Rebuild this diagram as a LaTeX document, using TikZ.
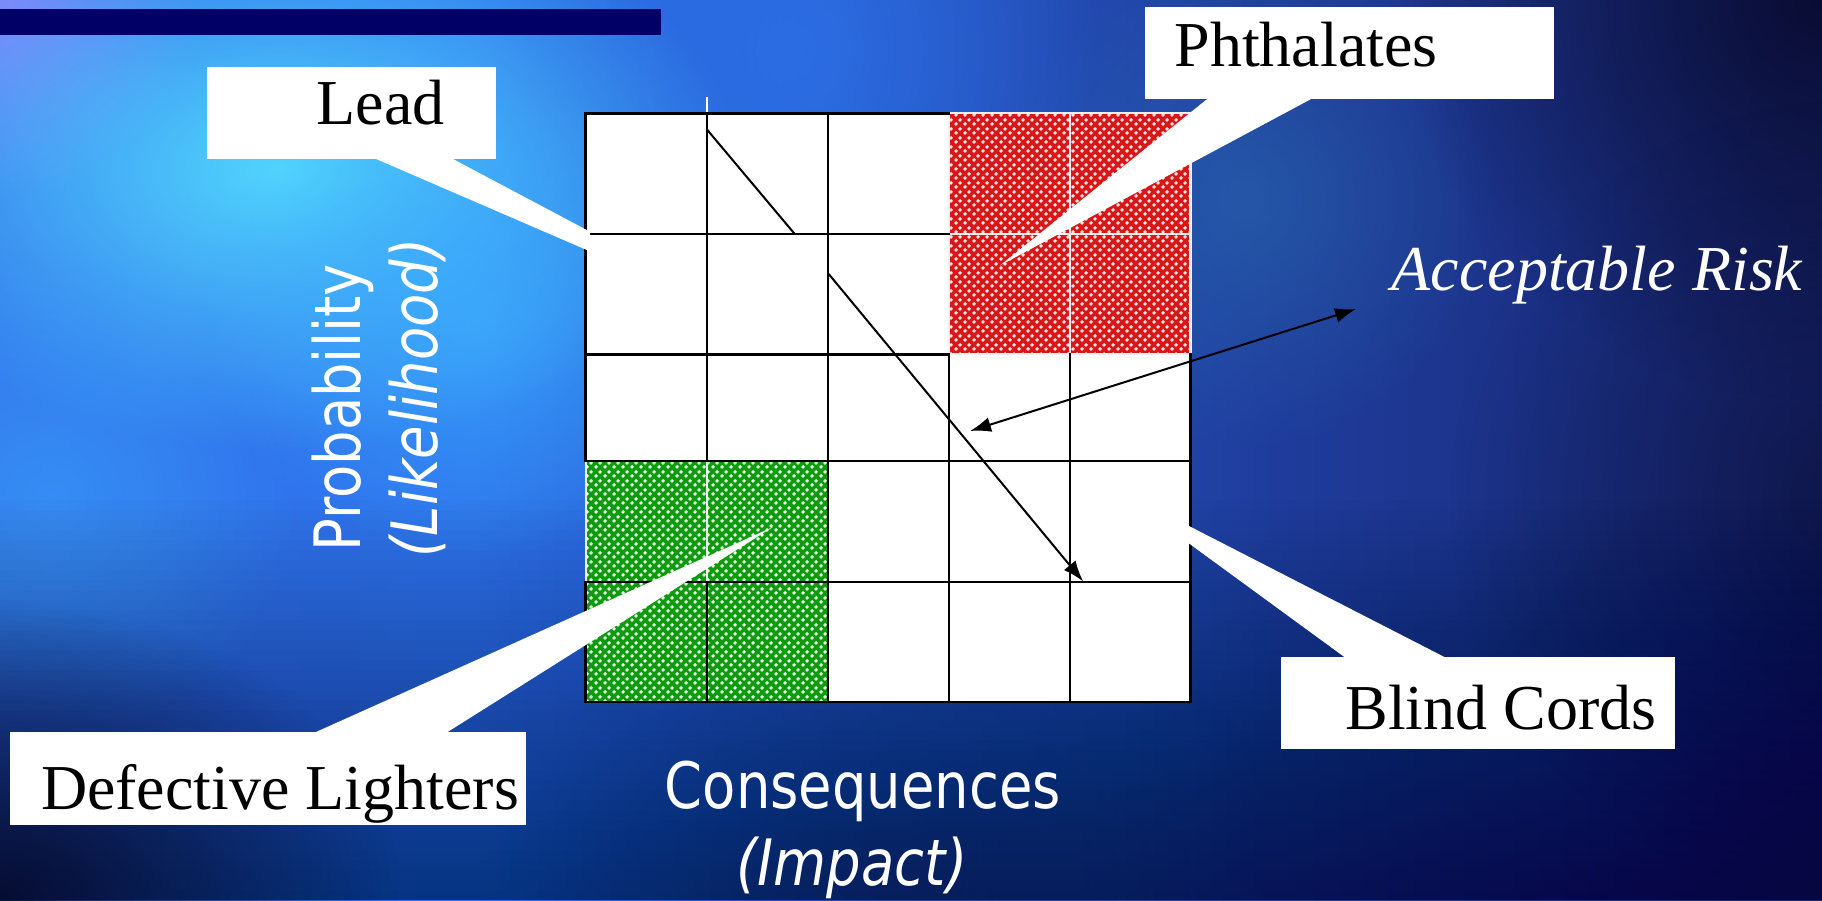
\documentclass[tikz,border=0pt]{standalone}
\usepackage{fontspec}
\setmainfont{Liberation Serif}
\newfontfamily\axisfont[FakeStretch=0.85]{DejaVu Sans}
\usetikzlibrary{arrows.meta,fadings,patterns}
\definecolor{bgA}{HTML}{3A6EE6}
\definecolor{bgB}{HTML}{2E74EE}
\definecolor{bgC}{HTML}{1F3C9C}
\definecolor{bgD}{HTML}{141C5C}
\definecolor{bgE}{HTML}{0A0A28}
\definecolor{glowcyan}{HTML}{55E0FF}
\definecolor{glowblue}{HTML}{3CB0FF}
\definecolor{glowpurple}{HTML}{A080FF}
\definecolor{glowteal}{HTML}{2A70B0}
\definecolor{darknavy}{HTML}{060624}
\definecolor{barnavy}{HTML}{000066}
\definecolor{riskred}{HTML}{D81818}
\definecolor{riskgreen}{HTML}{109A10}
\pgfdeclarehorizontalshading{bgshade}{100bp}{color(0bp)=(bgA); color(38bp)=(bgB); color(60bp)=(bgC); color(82bp)=(bgD); color(100bp)=(bgE)}
\pgfdeclarepatternformonly{riskdots}{\pgfqpoint{0pt}{0pt}}{\pgfqpoint{9pt}{9pt}}{\pgfqpoint{9pt}{9pt}}{%
  \pgfpathcircle{\pgfqpoint{2.25pt}{2.25pt}}{2.2pt}%
  \pgfpathcircle{\pgfqpoint{6.75pt}{6.75pt}}{2.2pt}%
  \pgfusepath{fill}}
\tikzfading[name=glow, inner color=transparent!0, outer color=transparent!100]
\tikzset{
  serlbl/.style={font=\fontsize{64}{77}\selectfont, text=black, inner sep=0pt, anchor=base},
  axlbl/.style={font=\axisfont\fontsize{64}{77}\selectfont, text=white, inner sep=0pt, anchor=base},
  calloutbox/.style={fill=white, draw=none, inner sep=0pt},
  gridblk/.style={line width=2.6pt, black, line cap=rect},
  gridwht/.style={line width=2.2pt, white!94!black},
  trendline/.style={line width=2pt, black},
  wedge/.style={fill=white}
}
\def\gxA{585.7}\def\gxB{706.8}\def\gxC{827.8}\def\gxD{949}\def\gxE{1070}\def\gxF{1190.5}
\def\gyA{113.3}\def\gyB{234}\def\gyC{354.2}\def\gyD{461}\def\gyE{582}\def\gyF{702}
\begin{document}
\begin{tikzpicture}[x=1pt,y=-1pt]
\useasboundingbox (0,0) rectangle (1822,900);
% background
\shade[shading=bgshade] (0,0) rectangle (1822,900);
\fill[bgB, path fading=glow, fill opacity=0.7] (500,-300) rectangle (1100,400);
\fill[glowpurple, path fading=glow, fill opacity=0.75] (-200,-200) rectangle (200,200);
\fill[glowcyan, path fading=glow, fill opacity=0.9] (-180,-110) rectangle (740,450);
\fill[glowblue, path fading=glow, fill opacity=0.7] (200,80) rectangle (760,560);
\fill[glowblue, path fading=glow, fill opacity=0.45] (-200,250) rectangle (300,750);
\fill[glowteal, path fading=glow, fill opacity=0.5] (1000,-50) rectangle (1500,450);
\fill[darknavy, path fading=glow, fill opacity=0.8] (1400,-400) rectangle (2240,400);
\fill[darknavy, path fading=glow, fill opacity=0.5] (1450,100) rectangle (2250,900);
\fill[bgC, path fading=glow, fill opacity=0.6] (500,600) rectangle (1300,1150);
\foreach \yy in {500,510,...,890} {\fill[darknavy, fill opacity=0.015] (0,\yy) rectangle (1822,900);}
\fill[darknavy, path fading=glow, fill opacity=0.85] (-400,600) rectangle (400,1200);
% top bar
\fill[barnavy] (0,9) rectangle (660.7,34.7);
% grid cells
\fill[white] (\gxA,\gyA) rectangle (\gxF,\gyF);
\fill[riskred] (\gxD,\gyA) rectangle (\gxF,\gyC);
\fill[pattern=riskdots, pattern color=white!90!red] (\gxD,\gyA) rectangle (\gxF,\gyC);
\fill[riskgreen] (\gxA,\gyD) rectangle (\gxC,\gyF);
\fill[pattern=riskdots, pattern color=white!90!green] (\gxA,\gyD) rectangle (\gxC,\gyF);
% white grid lines in coloured cells
\draw[gridwht] (\gxD,\gyA) rectangle (\gxF,\gyC);
\draw[gridwht] (\gxE,\gyA) -- (\gxE,\gyC);
\draw[gridwht] (\gxD,\gyB) -- (\gxF,\gyB);
\draw[gridwht] (\gxA,\gyD) -- (\gxA,\gyE);
\draw[gridwht] (\gxB,\gyD) -- (\gxB,\gyE);
\draw[line width=2pt, white] (\gxB,97) -- (\gxB,\gyA);
% black grid lines
\draw[gridblk] (\gxA,\gyA) -- (\gxD,\gyA);
\draw[gridblk] (\gxA,\gyB) -- (\gxD,\gyB);
\draw[gridblk] (\gxA,\gyC) -- (\gxD,\gyC);
\draw[gridblk] (\gxA,\gyD) -- (\gxF,\gyD);
\draw[gridblk] (\gxA,\gyE) -- (\gxF,\gyE);
\draw[gridblk] (\gxA,\gyF) -- (\gxF,\gyF);
\draw[gridblk] (\gxA,\gyA) -- (\gxA,\gyD);
\draw[gridblk] (\gxA,\gyE) -- (\gxA,\gyF);
\draw[gridblk] (\gxB,\gyA) -- (\gxB,\gyD);
\draw[gridblk] (\gxB,\gyE) -- (\gxB,\gyF);
\draw[gridblk] (\gxC,\gyA) -- (\gxC,\gyF);
\draw[gridblk] (\gxD,\gyC) -- (\gxD,\gyF);
\draw[gridblk] (\gxE,\gyC) -- (\gxE,\gyF);
\draw[gridblk] (\gxF,\gyC) -- (\gxF,\gyF);
% trend line
\coordinate (trendA) at (706.8,129.3);
\coordinate (trendB) at (794.3,233.5);
\coordinate (trendC) at (828.7,274);
\coordinate (trendD) at (1083.2,581.5);
\draw[trendline] (trendA) -- (trendB);
\draw[trendline, -{Latex[length=21pt,width=15pt]}] (trendC) -- (trendD);
% acceptable risk arrow
\coordinate (accA) at (970,431);
\coordinate (accB) at (1356,309);
\draw[trendline, {Latex[length=21pt,width=15pt]}-{Latex[length=21pt,width=15pt]}] (accA) -- (accB);
% callout wedges
\fill[wedge] (375,158.5) -- (452,158.5) -- (590,231.7) -- (590,251.4) -- cycle;
\fill[wedge] (1208.5,98) -- (1313,98) -- (1000,265.5) -- cycle;
\fill[wedge] (313.7,733) -- (446,733) -- (773,527) -- cycle;
\fill[wedge] (1344.4,657) -- (1444.4,657) -- (1187,525) -- (1187,542) -- cycle;
% callout boxes
\node[calloutbox, minimum width=288.7pt, minimum height=92pt] (leadbox) at (351.2,112.5) {};
\node[calloutbox, minimum width=409.3pt, minimum height=92.3pt] (phthbox) at (1349.3,52.8) {};
\node[calloutbox, minimum width=515.5pt, minimum height=92.7pt] (lightbox) at (268.2,778.6) {};
\node[calloutbox, minimum width=394.3pt, minimum height=92.6pt] (blindbox) at (1477.8,703) {};
% texts
\node[serlbl] (leadtxt) at (380.5,124) {Lead};
\node[serlbl] (phthtxt) at (1306,66.7) {Phthalates};
\node[serlbl] (lighttxt) at (280,809) {Defective Lighters};
\node[serlbl] (blindtxt) at (1501,729) {Blind Cords};
\node[serlbl, text=white] (acctxt) at (1597,290) {\itshape Acceptable Risk};
\node[axlbl] (constxt) at (863,808) {Consequences};
\node[axlbl] (imptxt) at (852,885) {\itshape (Impact)};
\node[axlbl, rotate=90] (probtxt) at (360,408) {Probability};
\node[axlbl, rotate=90] (liketxt) at (437,398) {\itshape (Likelihood)};
\end{tikzpicture}
\end{document}
